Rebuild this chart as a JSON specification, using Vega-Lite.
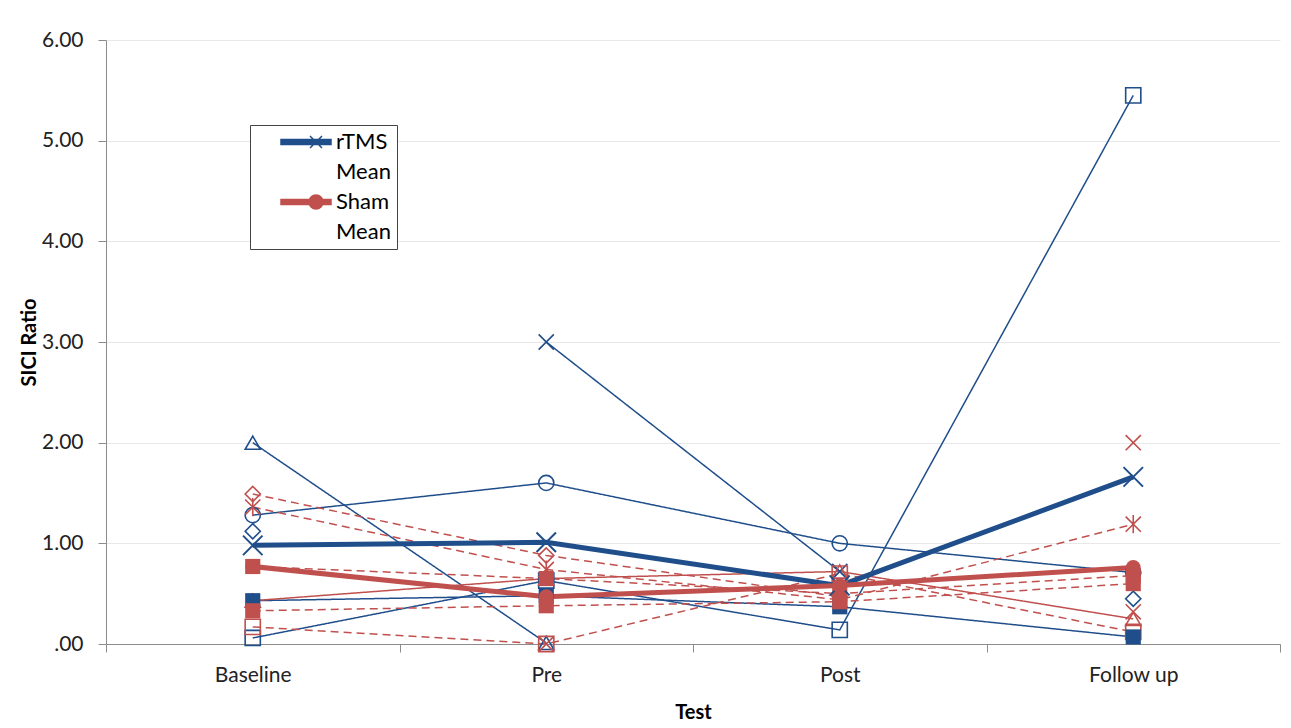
{
  "$schema": "https://vega.github.io/schema/vega-lite/v6.json",
  "width": 1174,
  "height": 604,
  "autosize": "none",
  "padding": {"left": 106, "top": 40, "right": 11, "bottom": 84},
  "background": "white",
  "config": {
    "view": {"stroke": null},
    "font": "Lato",
    "axis": {
      "labelFont": "Lato",
      "labelFontSize": 21,
      "labelColor": "#222222",
      "titleFont": "Lato",
      "titleFontSize": 20,
      "titleFontWeight": "bold",
      "titleColor": "#000000",
      "domainColor": "#8c8c8c",
      "tickColor": "#8c8c8c",
      "tickSize": 8,
      "gridColor": "#e8e8e8"
    },
    "legend": {
      "orient": "none",
      "legendX": 144,
      "legendY": 85,
      "padding": 6,
      "strokeColor": "#444444",
      "fillColor": "white",
      "labelFont": "Lato",
      "labelFontSize": 22,
      "labelColor": "#000000",
      "symbolSize": 400,
      "symbolStrokeWidth": 1.5,
      "labelOffset": 58,
      "rowPadding": 8
    }
  },
  "data": {
    "values": [
      {"s": "B1", "g": "rTMS", "t": "Baseline", "v": 2.00},
      {"s": "B1", "g": "rTMS", "t": "Pre", "v": 0.01},
      {"s": "B1", "g": "rTMS", "t": "Post", "v": null},
      {"s": "B1", "g": "rTMS", "t": "Follow up", "v": null},
      {"s": "B2", "g": "rTMS", "t": "Baseline", "v": 1.28},
      {"s": "B2", "g": "rTMS", "t": "Pre", "v": 1.60},
      {"s": "B2", "g": "rTMS", "t": "Post", "v": 1.00},
      {"s": "B2", "g": "rTMS", "t": "Follow up", "v": 0.71},
      {"s": "B3", "g": "rTMS", "t": "Baseline", "v": 1.12},
      {"s": "B3", "g": "rTMS", "t": "Pre", "v": null},
      {"s": "B3", "g": "rTMS", "t": "Post", "v": null},
      {"s": "B3", "g": "rTMS", "t": "Follow up", "v": 0.45},
      {"s": "B4", "g": "rTMS", "t": "Baseline", "v": null},
      {"s": "B4", "g": "rTMS", "t": "Pre", "v": 3.00},
      {"s": "B4", "g": "rTMS", "t": "Post", "v": 0.72},
      {"s": "B4", "g": "rTMS", "t": "Follow up", "v": null},
      {"s": "B5", "g": "rTMS", "t": "Baseline", "v": 0.06},
      {"s": "B5", "g": "rTMS", "t": "Pre", "v": 0.63},
      {"s": "B5", "g": "rTMS", "t": "Post", "v": 0.14},
      {"s": "B5", "g": "rTMS", "t": "Follow up", "v": 5.45},
      {"s": "B6", "g": "rTMS", "t": "Baseline", "v": 0.43},
      {"s": "B6", "g": "rTMS", "t": "Pre", "v": 0.48},
      {"s": "B6", "g": "rTMS", "t": "Post", "v": 0.37},
      {"s": "B6", "g": "rTMS", "t": "Follow up", "v": 0.07},
      {"s": "S1", "g": "Sham", "t": "Baseline", "v": 1.49},
      {"s": "S1", "g": "Sham", "t": "Pre", "v": 0.88},
      {"s": "S1", "g": "Sham", "t": "Post", "v": 0.47},
      {"s": "S1", "g": "Sham", "t": "Follow up", "v": null},
      {"s": "S2", "g": "Sham", "t": "Baseline", "v": 1.36},
      {"s": "S2", "g": "Sham", "t": "Pre", "v": 0.74},
      {"s": "S2", "g": "Sham", "t": "Post", "v": 0.44},
      {"s": "S2", "g": "Sham", "t": "Follow up", "v": 1.19},
      {"s": "S3", "g": "Sham", "t": "Baseline", "v": 0.43},
      {"s": "S3", "g": "Sham", "t": "Pre", "v": 0.65},
      {"s": "S3", "g": "Sham", "t": "Post", "v": 0.72},
      {"s": "S3", "g": "Sham", "t": "Follow up", "v": 0.25},
      {"s": "S4", "g": "Sham", "t": "Baseline", "v": 0.17},
      {"s": "S4", "g": "Sham", "t": "Pre", "v": 0.00},
      {"s": "S4", "g": "Sham", "t": "Post", "v": 0.70},
      {"s": "S4", "g": "Sham", "t": "Follow up", "v": 0.12},
      {"s": "S5", "g": "Sham", "t": "Baseline", "v": 0.33},
      {"s": "S5", "g": "Sham", "t": "Pre", "v": 0.38},
      {"s": "S5", "g": "Sham", "t": "Post", "v": 0.42},
      {"s": "S5", "g": "Sham", "t": "Follow up", "v": 0.60},
      {"s": "S6", "g": "Sham", "t": "Baseline", "v": null},
      {"s": "S6", "g": "Sham", "t": "Pre", "v": 0.00},
      {"s": "S6", "g": "Sham", "t": "Post", "v": null},
      {"s": "S6", "g": "Sham", "t": "Follow up", "v": 2.00},
      {"s": "S7", "g": "Sham", "t": "Baseline", "v": 0.77},
      {"s": "S7", "g": "Sham", "t": "Pre", "v": 0.65},
      {"s": "S7", "g": "Sham", "t": "Post", "v": 0.50},
      {"s": "S7", "g": "Sham", "t": "Follow up", "v": 0.68},
      {"s": "S8", "g": "Sham", "t": "Follow up", "v": 0.32},
      {"s": "RM", "g": "rTMS Mean", "t": "Baseline", "v": 0.98},
      {"s": "RM", "g": "rTMS Mean", "t": "Pre", "v": 1.01},
      {"s": "RM", "g": "rTMS Mean", "t": "Post", "v": 0.58},
      {"s": "RM", "g": "rTMS Mean", "t": "Follow up", "v": 1.66},
      {"s": "SM", "g": "Sham Mean", "t": "Baseline", "v": 0.77},
      {"s": "SM", "g": "Sham Mean", "t": "Pre", "v": 0.47},
      {"s": "SM", "g": "Sham Mean", "t": "Post", "v": 0.58},
      {"s": "SM", "g": "Sham Mean", "t": "Follow up", "v": 0.76}
    ]
  },
  "encoding": {
    "x": {
      "field": "t",
      "type": "ordinal",
      "sort": ["Baseline", "Pre", "Post", "Follow up"],
      "scale": {"type": "band", "paddingInner": 0, "paddingOuter": 0},
      "bandPosition": 0.5,
      "title": "Test",
      "axis": {"labelAngle": 0, "tickBand": "extent", "labelPadding": 12, "titlePadding": 17, "grid": false}
    },
    "y": {
      "field": "v",
      "type": "quantitative",
      "scale": {"domain": [0, 6], "nice": false},
      "title": "SICI Ratio",
      "axis": {
        "values": [0, 1, 2, 3, 4, 5, 6],
        "labelExpr": "datum.value == 0 ? '.00' : format(datum.value, '.2f')",
        "labelPadding": 15,
        "titlePadding": 2,
        "grid": true
      }
    }
  },
  "layer": [
    {
      "transform": [{"filter": "datum.g == 'rTMS' || datum.g == 'Sham'"}],
      "mark": {"type": "line", "strokeWidth": 1.5, "invalid": "break-paths-filter-domains"},
      "encoding": {
        "color": {"field": "g", "type": "nominal", "scale": {"domain": ["rTMS", "Sham"], "range": ["#1F4E8B", "#C0504D"]}, "legend": null},
        "detail": {"field": "s"},
        "strokeDash": {
          "field": "s",
          "type": "nominal",
          "scale": {
            "domain": ["B1", "B2", "B3", "B4", "B5", "B6", "S1", "S2", "S3", "S4", "S5", "S6", "S7", "S8"],
            "range": [[1, 0], [1, 0], [1, 0], [1, 0], [1, 0], [1, 0], [8, 5], [8, 5], [1, 0], [8, 5], [8, 5], [8, 5], [8, 5], [8, 5]]
          },
          "legend": null
        }
      }
    },
    {
      "transform": [{"filter": "datum.g == 'rTMS Mean' || datum.g == 'Sham Mean'"}],
      "mark": {"type": "line", "strokeWidth": 5},
      "encoding": {
        "color": {"field": "g", "type": "nominal", "scale": {"domain": ["rTMS Mean", "Sham Mean"], "range": ["#1F4E8B", "#C0504D"]}, "legend": null}
      }
    },
    {
      "transform": [{"filter": "indexof(['B1','B2','B3','B4','B5','S1','S2','S3','S4','S6','S8'], datum.s) >= 0"}],
      "mark": {"type": "point", "filled": false, "strokeWidth": 1.6, "size": 230, "opacity": 1},
      "encoding": {
        "color": {"field": "g", "type": "nominal", "scale": {"domain": ["rTMS", "Sham"], "range": ["#1F4E8B", "#C0504D"]}, "legend": null},
        "shape": {
          "field": "s",
          "type": "nominal",
          "scale": {
            "domain": ["B1", "B2", "B3", "B4", "B5", "S1", "S2", "S3", "S4", "S6", "S8"],
            "range": ["triangle-up", "circle", "diamond", "M-1,-1L1,1M-1,1L1,-1", "square", "diamond", "M-1,-1L1,1M-1,1L1,-1M0,-1.2L0,1.2", "triangle-up", "square", "M-1,-1L1,1M-1,1L1,-1", "M-1,-1L1,1M-1,1L1,-1"]
          },
          "legend": null
        }
      }
    },
    {
      "transform": [{"filter": "indexof(['B6','S5','S7'], datum.s) >= 0"}],
      "mark": {"type": "point", "filled": true, "shape": "square", "size": 230, "opacity": 1},
      "encoding": {
        "color": {"field": "g", "type": "nominal", "scale": {"domain": ["rTMS", "Sham"], "range": ["#1F4E8B", "#C0504D"]}, "legend": null}
      }
    },
    {
      "transform": [{"filter": "datum.s == 'RM'"}],
      "mark": {"type": "point", "filled": false, "shape": "M-1,-1L1,1M-1,1L1,-1", "size": 380, "strokeWidth": 2, "color": "#1F4E8B", "opacity": 1}
    },
    {
      "transform": [{"filter": "datum.s == 'SM'"}],
      "mark": {"type": "point", "filled": true, "shape": "circle", "size": 220, "color": "#C0504D", "opacity": 1}
    },
    {
      "transform": [{"filter": "datum.v > 100"}],
      "mark": {"type": "point", "filled": true, "strokeWidth": 1.5, "size": 400, "opacity": 1},
      "encoding": {
        "color": {"field": "g", "type": "nominal", "title": null, "scale": {"domain": ["rTMS Mean", "rTMS Mean|2", "Sham Mean", "Sham Mean|2"], "range": ["#1F4E8B", "#FFFFFF", "#C0504D", "#FFFFFF"]}, "legend": {"labelExpr": "indexof(datum.label, '|') >= 0 ? 'Mean' : split(datum.label, ' ')[0]"}},
        "stroke": {"field": "g", "type": "nominal", "title": null, "scale": {"domain": ["rTMS Mean", "rTMS Mean|2", "Sham Mean", "Sham Mean|2"], "range": ["#1F4E8B", "#FFFFFF", "#C0504D", "#FFFFFF"]}, "legend": {"labelExpr": "indexof(datum.label, '|') >= 0 ? 'Mean' : split(datum.label, ' ')[0]"}},
        "shape": {
          "field": "g",
          "type": "nominal",
          "title": null,
          "scale": {
            "domain": ["rTMS Mean", "rTMS Mean|2", "Sham Mean", "Sham Mean|2"],
            "range": ["M1.4,-0.25H6.4V0.25H1.4Z M4.3,-0.6L5.5,0.6 M4.3,0.6L5.5,-0.6", "M0,0", "M1.4,-0.25H6.4V0.25H1.4Z M4.2,0A0.7,0.7 0 1,1 5.6,0A0.7,0.7 0 1,1 4.2,0Z", "M0,0"]
          },
          "legend": {"labelExpr": "indexof(datum.label, '|') >= 0 ? 'Mean' : split(datum.label, ' ')[0]"}
        }
      }
    }
  ],
  "resolve": {"scale": {"color": "independent", "shape": "independent", "strokeDash": "independent", "stroke": "independent"}}
}
